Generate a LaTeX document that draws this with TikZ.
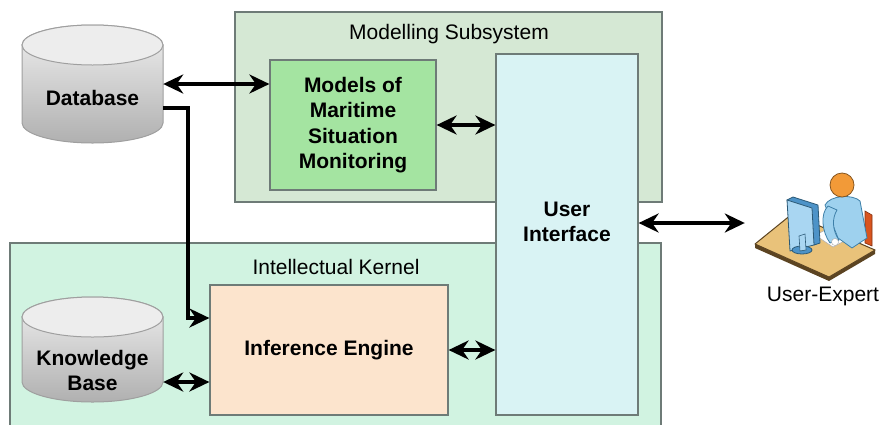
\documentclass[tikz,border=0pt]{standalone}
\usepackage{fontspec}
\setmainfont{Liberation Sans}
\usetikzlibrary{arrows.meta, positioning}

\definecolor{subsysgreen}{HTML}{D5E8D4}
\definecolor{kernelgreen}{HTML}{D1F3E1}
\definecolor{modelgreen}{HTML}{A4E4A1}
\definecolor{uicyan}{HTML}{D9F3F4}
\definecolor{enginepeach}{HTML}{FCE4CD}
\definecolor{edgegray}{HTML}{6E7B77}
\definecolor{desktan}{HTML}{E9C27A}
\definecolor{deskedge}{HTML}{5C4422}
\definecolor{chairred}{HTML}{D9541E}
\definecolor{shirtblue}{HTML}{9ED1EE}
\definecolor{shirtedge}{HTML}{3D7FA8}
\definecolor{headorange}{HTML}{F29A38}
\definecolor{screenblue}{HTML}{A9D6F2}
\definecolor{monitordark}{HTML}{4D93C8}

\begin{document}
\begin{tikzpicture}[
  x=1pt, y=-1pt,
  every node/.style={font=\fontsize{21}{25}\selectfont},
  group/.style={draw=edgegray, line width=1.2pt, inner sep=0pt},
  box/.style={draw=edgegray, line width=1.2pt, align=center, inner sep=0pt,
    font=\fontsize{21}{25.5}\selectfont\bfseries},
  storebox/.style={inner sep=0pt, minimum width=141pt},
  cylbody/.style={draw=gray!75, line width=1pt, top color=gray!12, bottom color=gray!62},
  cyltop/.style={draw=gray!75, line width=1pt, fill=gray!14},
  boldtext/.style={font=\fontsize{21}{25}\selectfont\bfseries, align=center},
  arr/.style={-{Stealth[length=20pt, width=19pt, inset=6.5pt]}, line width=3.6pt},
  biarr/.style={{Stealth[length=20pt, width=19pt, inset=6.5pt]}-{Stealth[length=20pt, width=19pt, inset=6.5pt]}, line width=3.6pt},
]
\useasboundingbox (0,0) rectangle (880,424);

 % ---- containers ----
 \node[group, fill=subsysgreen, minimum width=427pt, minimum height=190pt] (modsub) at (448.5,107) {};
 \node (modsublabel) at (449,34) {Modelling Subsystem};
 \node[group, fill=kernelgreen, minimum width=651pt, minimum height=200pt] (kernel) at (335.5,343) {};
 \node (kernellabel) at (336,267) {Intellectual Kernel};

 % ---- storages (drawn as cylinders) ----
 \shadedraw[cylbody] (22,45) -- (22,123) arc[start angle=180, end angle=0, x radius=70.5, y radius=20]
   -- (163,45) arc[start angle=0, end angle=-180, x radius=70.5, y radius=20] -- cycle;
 \filldraw[cyltop] (92.5,45) ellipse[x radius=70.5, y radius=20];
 \node[storebox, minimum height=118pt] (db) at (92.5,84) {};
 \node[boldtext] (dblabel) at (92.5,98) {Database};

 \shadedraw[cylbody] (22,317) -- (22,382) arc[start angle=180, end angle=0, x radius=70.5, y radius=20]
   -- (163,317) arc[start angle=0, end angle=-180, x radius=70.5, y radius=20] -- cycle;
 \filldraw[cyltop] (92.5,317) ellipse[x radius=70.5, y radius=20];
 \node[storebox, minimum height=105pt] (kb) at (92.5,349.5) {};
 \node[boldtext] (kblabel) at (92.5,370) {Knowledge\\Base};

 % ---- blocks ----
 \node[box, fill=modelgreen, minimum width=166pt, minimum height=130pt] (models) at (353,125) {Models of\\Maritime\\Situation\\Monitoring};
 \node[box, fill=uicyan, minimum width=142pt, minimum height=361pt] (ui) at (567,234.5) {};
 \node[boldtext] (uilabel) at (567,222) {User\\Interface};
 \node[box, fill=enginepeach, minimum width=238pt, minimum height=130pt] (engine) at (329,350) {Inference Engine};

 % ---- user at the desk ----
 \node[inner sep=0pt, minimum width=132pt, minimum height=108pt] (expert) at (811,223) {};
 \node (expertlabel) at (823,296) {User-Expert};
 \fill[deskedge] (755,244) -- (755,248) -- (829,281) -- (875,254) -- (875,250) -- (829,277) -- cycle;
 \filldraw[fill=desktan, draw=deskedge, line width=1pt, line join=round]
   (755,244) -- (792,214) -- (875,250) -- (829,277) -- cycle;
 \filldraw[fill=chairred, draw=chairred!60!black, line width=0.6pt] (865,211) -- (872,215) -- (872,246) -- (865,243) -- cycle;
 \filldraw[fill=white, draw=gray!60, line width=0.6pt] (815,235) -- (830,228) -- (848,239) -- (833,247) -- cycle;
 \filldraw[fill=shirtblue, draw=shirtedge, line width=0.8pt, line join=round]
   (825,205) .. controls (830,195) and (853,194) .. (860,201) -- (867,238) -- (852,248) -- (838,238) -- cycle;
 \filldraw[fill=shirtblue, draw=shirtedge, line width=0.8pt, line join=round]
   (828,206) .. controls (820,214) and (822,232) .. (830,243) -- (839,240) .. controls (832,230) and (832,218) .. (837,210) -- cycle;
 \filldraw[fill=white, draw=gray!70] (835,242) circle[radius=3.5];
 \filldraw[fill=headorange, draw=headorange!55!black, line width=0.8pt] (842,185) circle[radius=12];
 \filldraw[fill=monitordark, draw=shirtedge!70!black, line width=0.8pt, line join=round]
   (787,200) -- (793,197) -- (818,205) -- (820,243) -- (814,245) -- cycle;
 \filldraw[fill=screenblue, draw=shirtedge!70!black, line width=0.8pt, line join=round]
   (787,200) -- (812,208) -- (814,245) -- (790,251) -- cycle;
 \filldraw[fill=monitordark, draw=shirtedge!70!black, line width=0.8pt] (802,250) ellipse[x radius=10, y radius=4];
 \filldraw[fill=screenblue, draw=shirtedge!70!black, line width=0.6pt] (799,236) -- (805,234) -- (806,250) -- (800,251) -- cycle;

 % ---- connectors ----
 \coordinate (drop) at (188,318);
 \draw[biarr] (db.east) -- (db.east -| models.west);
 \draw[arr] ([yshift=-24pt]db.east) -| (drop) -- (drop -| engine.west);
 \draw[biarr] (models.east) -- (models.east -| ui.west);
 \draw[biarr] (engine.east) -- (engine.east -| ui.west);
 \draw[biarr] ([yshift=-32.5pt]kb.east) -- ([yshift=-32.5pt]kb.east -| engine.west);
 \draw[biarr] (ui.east |- expert) -- (expert.west);

\end{tikzpicture}
\end{document}
